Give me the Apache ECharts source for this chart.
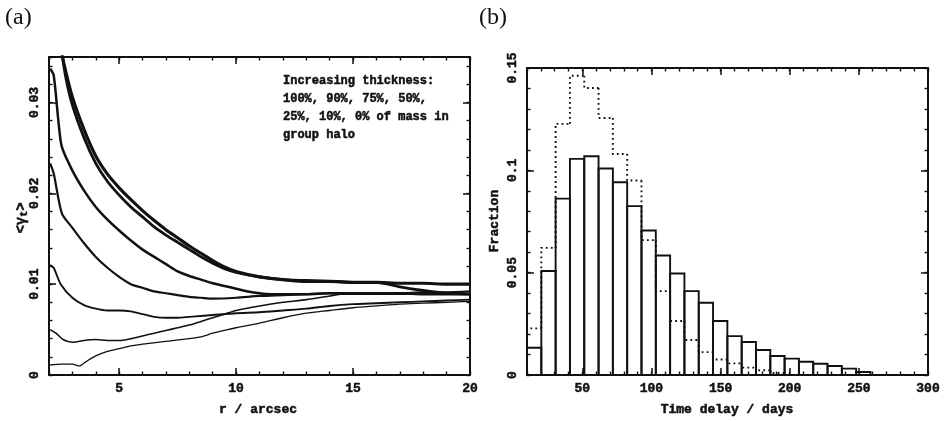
<!DOCTYPE html>
<html>
<head>
<meta charset="utf-8">
<script src="https://cdn.jsdelivr.net/npm/echarts@6/dist/echarts.min.js"></script>
<style>
html,body{margin:0;padding:0;background:#fff;}
#chart{width:948px;height:421px;}
</style>
</head>
<body>
<div id="chart"></div>
<script>
// ---------- Panel (a): mean tangential shear vs radius ----------
const rMajorTicks = [5, 10, 15, 20];
const gammaTicks = [0, 0.01, 0.02, 0.03];
const curve100 = [[2.05,0.0011],[2.5,0.0012],[3.0,0.0012],[3.3,0.0010],[3.6,0.0015],[4,0.0021],[4.5,0.0026],[5,0.0029],[5.5,0.0032],[6,0.0034],[7,0.0037],[8,0.0040],[8.5,0.0042],[9,0.0046],[9.5,0.0049],[10,0.0052],[11,0.0057],[12,0.0063],[13,0.0068],[14,0.0071],[15,0.0074],[16,0.0076],[17,0.0078],[18,0.0079],[19,0.0080],[20,0.0081]];
const curve90 = [[2.05,0.0050],[2.3,0.0046],[2.6,0.0039],[3,0.0036],[3.5,0.0038],[4,0.0039],[4.5,0.0038],[5,0.0038],[5.5,0.0040],[6,0.0043],[6.5,0.0046],[7,0.0049],[7.5,0.0052],[8,0.0055],[8.5,0.0059],[9,0.0063],[9.5,0.0067],[10,0.0071],[11,0.0076],[12,0.0080],[13,0.0083],[14,0.0087],[14.5,0.0089],[15,0.0089],[16,0.0089],[17,0.0089],[18,0.0089],[19,0.0089],[20,0.0089]];
const curve75 = [[2.05,0.0121],[2.2,0.0118],[2.5,0.0100],[3,0.0085],[3.5,0.0077],[4,0.0073],[4.5,0.0071],[5,0.0071],[5.5,0.0070],[6,0.0067],[6.5,0.0064],[7,0.0063],[7.5,0.0063],[8,0.0064],[8.5,0.0065],[9,0.0066],[10,0.0068],[11,0.0069],[12,0.0071],[13,0.0073],[14,0.0076],[15,0.0078],[16,0.0079],[17,0.0080],[18,0.0081],[19,0.0082],[20,0.0083]];
const curve50 = [[2.05,0.0233],[2.2,0.0222],[2.55,0.0178],[3,0.0162],[3.5,0.0145],[4,0.0130],[4.5,0.0118],[5,0.0108],[5.5,0.0100],[6,0.0096],[6.5,0.0092],[7,0.0090],[7.5,0.0088],[8,0.0086],[8.5,0.0085],[9,0.0084],[10,0.0085],[11,0.0087],[12,0.0088],[13,0.0089],[14,0.0090],[15,0.0090],[16,0.0090],[17,0.0090],[18,0.0091],[19,0.0091],[20,0.0092]];
const curve25 = [[2.05,0.0337],[2.2,0.0330],[2.4,0.0280],[2.55,0.0251],[3,0.0225],[3.5,0.0203],[4,0.0185],[4.5,0.0171],[5,0.0159],[5.5,0.0148],[6,0.0138],[6.5,0.0130],[7,0.0122],[7.5,0.0114],[8,0.0109],[8.5,0.0105],[9,0.0101],[9.5,0.0098],[10,0.0095],[10.5,0.0092],[11,0.0090],[11.5,0.0089],[12,0.0089],[13,0.0089],[14,0.0090],[15,0.0090],[16,0.0090],[17,0.0090],[18,0.0089],[19,0.0089],[20,0.0089]];
const curve10 = [[2.5,0.0365],[2.7,0.0330],[3,0.0297],[3.5,0.0261],[4,0.0233],[4.5,0.0213],[5,0.0198],[5.5,0.0185],[6,0.0174],[6.5,0.0163],[7,0.0154],[7.5,0.0146],[8,0.0138],[8.5,0.0130],[9,0.0123],[9.5,0.0117],[10,0.0113],[11,0.0108],[12,0.0105],[13,0.0104],[14,0.0103],[15,0.0102],[16,0.0102],[17,0.0097],[18,0.0093],[19,0.0090],[20,0.0089]];
const curve0 = [[2.45,0.0365],[2.7,0.0336],[3,0.0306],[3.5,0.0270],[4,0.0241],[4.5,0.0221],[5,0.0206],[5.5,0.0193],[6,0.0181],[6.5,0.0170],[7,0.0160],[7.5,0.0151],[8,0.0142],[8.5,0.0134],[9,0.0126],[9.5,0.0119],[10,0.0114],[11,0.0108],[12,0.0105],[13,0.0103],[14,0.0103],[15,0.0102],[16,0.0102],[17,0.0101],[18,0.0101],[19,0.0100],[20,0.0100]];
const curveList = [curve100, curve90, curve75, curve50, curve25, curve10, curve0];
const curveWidths = [1.3, 1.6, 1.9, 2.2, 2.5, 2.8, 3.1];

// ---------- Panel (b): time delay histogram ----------
const delayTicks = [50, 100, 150, 200, 250, 300];
const fracTicks = [0, 0.05, 0.1, 0.15];
const binStart = 10;
const binWidth = 10.35;
const solidFrac = [0.0133,0.0508,0.0862,0.1056,0.1069,0.1009,0.0942,0.0825,0.0706,0.0584,0.0496,0.0410,0.0353,0.0264,0.0190,0.0161,0.0122,0.0093,0.0080,0.0065,0.0055,0.0044,0.0031,0.0015];
const dottedFrac = [0.0228,0.0621,0.1227,0.1462,0.1402,0.1256,0.1080,0.0950,0.0659,0.0410,0.0264,0.0171,0.0112,0.0076,0.0057,0.0036,0.0023,0.0010,0,0,0,0,0,0];

const FONT = '"Liberation Mono", "DejaVu Sans Mono", monospace';
const INK = '#111';

function makeAxes(kind, grid, min, max, minorInterval, majorValues, labelValues, labelOpts) {
  const isX = kind === 'x';
  const sides = isX ? ['bottom', 'top'] : ['left', 'right'];
  const axes = [];
  sides.forEach((pos, si) => {
    axes.push({
      type: 'value', gridIndex: grid, position: pos, min: min, max: max, interval: minorInterval,
      axisLine: { show: true, onZero: false, lineStyle: { color: INK, width: 2 } },
      axisTick: { show: true, inside: true, length: 3.5, lineStyle: { color: INK, width: 1.4 } },
      axisLabel: { show: false }, splitLine: { show: false }
    });
    axes.push({
      type: 'value', gridIndex: grid, position: pos, min: min, max: max,
      axisLine: { show: false, onZero: false },
      axisTick: { show: true, inside: true, length: 7, customValues: majorValues, lineStyle: { color: INK, width: 1.5 } },
      axisLabel: si === 0 ? Object.assign({
        show: true, customValues: labelValues, color: INK, fontFamily: FONT, fontWeight: 'bold', fontSize: 13,
        textBorderColor: INK, textBorderWidth: 0.5
      }, labelOpts || {}) : { show: false },
      splitLine: { show: false }
    });
  });
  return axes;
}

const xAxes = [].concat(
  makeAxes('x', 0, 2, 20, 1, rMajorTicks, rMajorTicks, { margin: 7 }),
  makeAxes('x', 1, 10, 300, 10, delayTicks, delayTicks, { margin: 7 })
);
const yAxes = [].concat(
  makeAxes('y', 0, 0, 0.035, 0.002, gammaTicks, gammaTicks, { rotate: 90, margin: 8 }),
  makeAxes('y', 1, 0, 0.15, 0.01, fracTicks, fracTicks, { rotate: 90, margin: 8 })
);

const series = [];
curveList.forEach((c, i) => {
  series.push({
    type: 'line', xAxisIndex: 1, yAxisIndex: 1, data: c, showSymbol: false,
    smooth: 0.25, clip: true,
    lineStyle: { color: INK, width: curveWidths[i] }, z: 3 + i
  });
});

// solid histogram as outlined boxes
const solidBins = solidFrac.map((v, i) => [binStart + i * binWidth, binStart + (i + 1) * binWidth, v]);
series.push({
  type: 'custom', xAxisIndex: 5, yAxisIndex: 5, clip: true, data: solidBins,
  encode: { x: [0, 1], y: 2 },
  renderItem: function (params, api) {
    const p0 = api.coord([api.value(0), api.value(2)]);
    const p1 = api.coord([api.value(1), 0]);
    return {
      type: 'rect',
      shape: { x: p0[0], y: p0[1], width: p1[0] - p0[0], height: p1[1] - p0[1] },
      style: { fill: 'none', stroke: INK, lineWidth: 1.9 }
    };
  }
});

// dotted histogram as step outline
const dottedBins = dottedFrac.map((v, i) => [binStart + i * binWidth, binStart + (i + 1) * binWidth, v, i === 0 ? 0 : dottedFrac[i - 1]]);
series.push({
  type: 'custom', xAxisIndex: 5, yAxisIndex: 5, clip: true, data: dottedBins,
  encode: { x: [0, 1], y: 2 },
  renderItem: function (params, api) {
    const v = api.value(2), pv = api.value(3);
    if (v === 0 && pv === 0) return null;
    const a = api.coord([api.value(0), pv]);
    const b = api.coord([api.value(0), v]);
    const c = api.coord([api.value(1), v]);
    return {
      type: 'polyline',
      shape: { points: [a, b, c] },
      style: { fill: 'none', stroke: INK, lineWidth: 1.9, lineDash: [1.8, 3.2] }
    };
  }
});

function label(x, y, text, size, extra) {
  return Object.assign({ type: 'text', x: x, y: y,
    style: { text: text, font: 'bold ' + size + 'px ' + FONT, fill: INK, stroke: INK, lineWidth: 0.5, verticalAlign: 'middle' } }, extra || {});
}

const t1 = label(258, 410, 'r / arcsec', 13); t1.style.align = 'center';
const t2 = label(727, 410, 'Time delay / days', 13); t2.style.align = 'center';
const t3 = label(495, 221, 'Fraction', 13, { rotation: Math.PI / 2 }); t3.style.align = 'center';

const chart = echarts.init(document.getElementById('chart'), null, { renderer: 'canvas' });
chart.setOption({
  backgroundColor: '#fff',
  animation: false,
  grid: [
    { left: 49, top: 57, width: 421, height: 318, containLabel: false },
    { left: 527, top: 68, width: 401, height: 307, containLabel: false }
  ],
  xAxis: xAxes,
  yAxis: yAxes,
  series: series,
  graphic: [
    { type: 'text', left: 5, top: 6, style: { text: '(a)', font: '24px "Liberation Serif", serif', fill: INK } },
    { type: 'text', left: 479, top: 6, style: { text: '(b)', font: '24px "Liberation Serif", serif', fill: INK } },
    t1, t2, t3,
    { type: 'text', x: 21, y: 218, rotation: Math.PI / 2,
      style: { text: '{a|<γ}{s|t}{a|>}', fill: INK, stroke: INK, lineWidth: 0.5, align: 'center', verticalAlign: 'middle',
        rich: { a: { fontFamily: FONT, fontWeight: 'bold', fontSize: 14 },
                s: { fontFamily: FONT, fontWeight: 'bold', fontSize: 10, padding: [6, 0, 0, 0] } } } },
    label(283, 81, 'Increasing thickness:', 12),
    label(283, 99, '100%, 90%, 75%, 50%,', 12),
    label(283, 117, '25%, 10%, 0% of mass in', 12),
    label(283, 135, 'group halo', 12)
  ]
});
</script>
</body>
</html>
